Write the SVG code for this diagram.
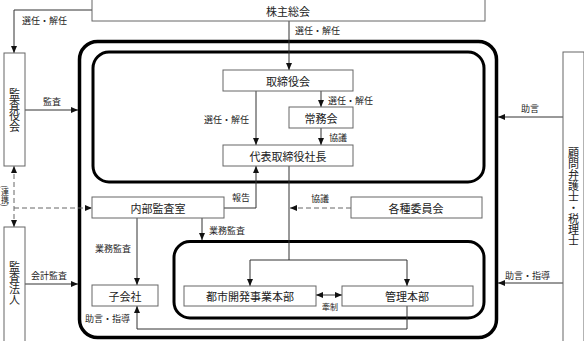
<svg xmlns="http://www.w3.org/2000/svg" width="584" height="341" viewBox="0 0 584 341">
<style>
.box{fill:#fff;stroke:#666;stroke-width:1}
.frame{fill:none;stroke:#000}
.t{font-family:"Noto Sans CJK JP","Noto Sans CJK SC",sans-serif;font-size:11px;fill:#222;text-anchor:middle;dominant-baseline:central}
.l{font-family:"Noto Sans CJK JP","Noto Sans CJK SC",sans-serif;font-size:9px;fill:#222;dominant-baseline:central}
.v{writing-mode:vertical-rl;text-anchor:middle}
.c{fill:none;stroke:#333;stroke-width:1}
.d{stroke:#666;stroke-dasharray:5 3}
</style>
<defs>
<marker id="ah" markerUnits="userSpaceOnUse" markerWidth="8" markerHeight="8" refX="7" refY="4" orient="auto-start-reverse" viewBox="0 0 8 8">
<path d="M0,1 L7,4 L0,7 Z" fill="#111"/>
</marker>
</defs>

<g id="frames">
<rect class="frame" x="79.5" y="41.5" width="417" height="296" rx="18" stroke-width="3.5"/>
<rect class="frame" x="93" y="52" width="391" height="130" rx="16" stroke-width="3"/>
<rect class="frame" x="174" y="241.5" width="310" height="76.5" rx="16" stroke-width="3"/>
</g>

<g id="connectors">
<path class="c" d="M92,10 H14 V53" marker-end="url(#ah)"/>
<path class="c" d="M289,21 V70" marker-end="url(#ah)"/>
<path class="c" d="M256,91 V145" marker-end="url(#ah)"/>
<path class="c" d="M321,91 V107" marker-end="url(#ah)"/>
<path class="c" d="M321,128 V145" marker-end="url(#ah)"/>
<path class="c" d="M25,110 H78" marker-end="url(#ah)"/>
<path class="c" d="M563,117 H498" marker-end="url(#ah)"/>
<path class="c" d="M563,283 H498" marker-end="url(#ah)"/>
<path class="c" d="M25,284 H78" marker-end="url(#ah)"/>
<path class="c d" d="M14,166 V227" marker-start="url(#ah)" marker-end="url(#ah)"/>
<path class="c d" d="M14,208 H92" marker-end="url(#ah)"/>
<path class="c" d="M224,208 H256 V166" marker-end="url(#ah)"/>
<path class="c" d="M202,218 V240" marker-end="url(#ah)"/>
<path class="c" d="M137,218 V285" marker-end="url(#ah)"/>
<path class="c" d="M289,166 V260"/>
<path class="c" d="M250,286 V260 H407 V286" marker-start="url(#ah)" marker-end="url(#ah)"/>
<path class="c d" d="M351,208 H290" marker-end="url(#ah)"/>
<path class="c" d="M316,295 H342" marker-start="url(#ah)" marker-end="url(#ah)"/>
<path class="c" d="M407,306 V329 H137 V306" marker-end="url(#ah)"/>
</g>

<g id="labels">
<text class="l" x="22" y="20">選任・解任</text>
<text class="l" x="295" y="30">選任・解任</text>
<text class="l" x="43" y="101">監査</text>
<text class="l" x="204" y="119">選任・解任</text>
<text class="l" x="328" y="100">選任・解任</text>
<text class="l" x="329" y="137">協議</text>
<text class="l" x="521" y="108">助言</text>
<text class="l" x="232" y="197">報告</text>
<text class="l" x="311" y="198">協議</text>
<text class="l" x="209" y="230">業務監査</text>
<text class="l" x="95" y="248">業務監査</text>
<text class="l" x="31" y="275">会計監査</text>
<text class="l" x="505" y="275">助言・指導</text>
<text class="l" x="322" y="306" style="font-size:8px">牽制</text>
<text class="l" x="85" y="318">助言・指導</text>
<text class="l v" x="5" y="196" style="font-size:8px">(連携)</text>
</g>

<g id="kabunushi"><rect class="box" x="92" y="-1" width="393" height="22"/><text class="t" x="288" y="11">株主総会</text></g>
<g id="torishimariyakukai"><rect class="box" x="223" y="70" width="130" height="21"/><text class="t" x="288" y="81">取締役会</text></g>
<g id="jomukai"><rect class="box" x="289" y="107" width="64" height="21"/><text class="t" x="321" y="118">常務会</text></g>
<g id="shacho"><rect class="box" x="223" y="145" width="130" height="21"/><text class="t" x="288" y="156">代表取締役社長</text></g>
<g id="naibukansa"><rect class="box" x="92" y="197" width="132" height="21"/><text class="t" x="158" y="208">内部監査室</text></g>
<g id="iinkai"><rect class="box" x="351" y="197" width="131" height="21"/><text class="t" x="416" y="208">各種委員会</text></g>
<g id="kogaisha"><rect class="box" x="92" y="285" width="66" height="21"/><text class="t" x="125" y="296">子会社</text></g>
<g id="toshikaihatsu"><rect class="box" x="184" y="286" width="132" height="20"/><text class="t" x="250" y="296">都市開発事業本部</text></g>
<g id="kanri"><rect class="box" x="342" y="286" width="131" height="20"/><text class="t" x="407" y="296">管理本部</text></g>
<g id="kansayakukai"><rect class="box" x="4" y="53" width="21" height="113"/><text class="t v" x="14.5" y="110">監査役会</text></g>
<g id="kansahojin"><rect class="box" x="4" y="227" width="21" height="116"/><text class="t v" x="14.5" y="283">監査法人</text></g>
<g id="komon"><rect class="box" x="563" y="52" width="21" height="292"/><text class="t v" x="573.5" y="197">顧問弁護士・税理士</text></g>
</svg>
